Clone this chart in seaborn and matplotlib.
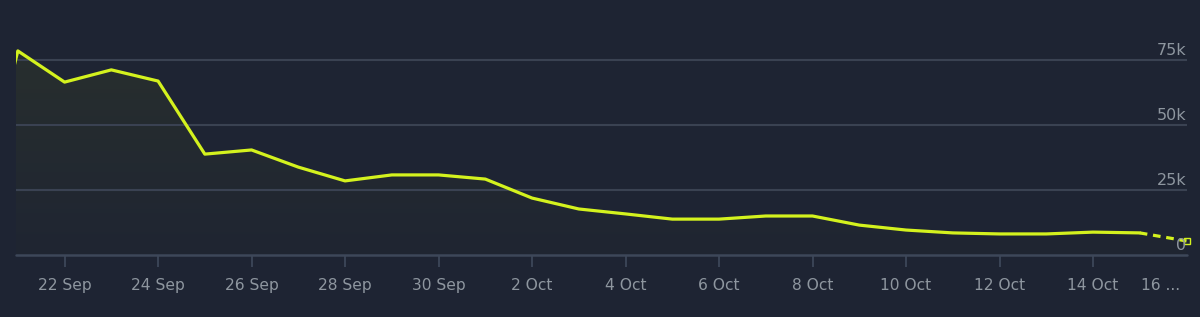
import numpy as np
import pandas as pd
import matplotlib
matplotlib.use("Agg")
import matplotlib.pyplot as plt
import matplotlib.dates as mdates
from matplotlib.colors import LinearSegmentedColormap
import seaborn as sns

# ---- data ----
dates = pd.date_range("2023-09-20", "2023-10-16", freq="D")
players = [5500, 78500, 66500, 71200, 66900, 38800, 40400, 33800, 28500, 30800,
           30800, 29200, 21900, 17700, 15800, 13800, 13800, 15000, 15000, 11500,
           9600, 8500, 8100, 8100, 8800, 8500, 5400]
yticks = [0, 25000, 50000, 75000]
ytick_labels = ["0", "25k", "50k", "75k"]
xtick_dates = pd.date_range("2023-09-22", "2023-10-14", freq="2D")
xtick_labels = [f"{d.day} {d.strftime('%b')}" for d in xtick_dates]
last_label = "16 ..."

BG = "#1e2433"
LINE = "#d4f21e"
GRID = "#3a4252"
TXT = "#8e969f"

sns.set_theme(style="dark")
plt.rcParams["font.family"] = ["DejaVu Sans"]

df = pd.DataFrame({"date": dates, "players": players})
solid = df.iloc[:-1]
dashed = df.iloc[-2:]

W, H = 1200, 317
fig = plt.figure(figsize=(W / 100, H / 100), dpi=100, facecolor=BG)
ax = fig.add_axes([15.5 / W, 62 / H, (1186.5 - 15.5) / W, (255 - 21) / H])
ax.set_facecolor(BG)

ymax = 90000
x0 = mdates.date2num(pd.Timestamp("2023-09-21")) - 0.05
x1 = mdates.date2num(pd.Timestamp("2023-10-16"))
ax.set_xlim(x0, x1)
ax.set_ylim(0, ymax)

# gradient fill under the line
xs = mdates.date2num(df["date"])
fill = ax.fill_between(xs, df["players"], 0, color="none", lw=0)
cmap = LinearSegmentedColormap.from_list("g", ["#1f2532", "#282f2e"])
img = ax.imshow(np.linspace(1, 0, 256).reshape(-1, 1), cmap=cmap, aspect="auto",
                extent=[x0, x1, 0, 80000], origin="upper", zorder=1)
img.set_clip_path(fill.get_paths()[0], transform=ax.transData)
ax.set_xlim(x0, x1)
ax.set_ylim(0, ymax)

# grid lines
for v in yticks[1:]:
    ax.axhline(v, color=GRID, lw=1.5, zorder=2)
ax.axhline(0, color="#3d4759", lw=1.8, zorder=2, clip_on=False)

sns.lineplot(data=solid, x="date", y="players", ax=ax, color=LINE, lw=2.3,
             zorder=5)
sns.lineplot(data=dashed, x="date", y="players", ax=ax, color=LINE, lw=2.3,
             zorder=5, linestyle=(0, (2.4, 1.8)))
ax.plot([dashed["date"].iloc[-1]], [dashed["players"].iloc[-1]], marker="s",
        ms=4, mfc="none", mec=LINE, mew=1.0, zorder=6, clip_on=False)

ax.set_xlim(x0, x1)
ax.set_ylim(0, ymax)

# y labels (inside, right, above the gridlines)
for v, lab in zip(yticks, ytick_labels):
    ax.annotate(lab, xy=(1, v), xycoords=("axes fraction", "data"),
                xytext=(0, 2), textcoords="offset pixels",
                ha="right", va="bottom", color=TXT, fontsize=11.5, zorder=7)
ax.set_yticks([])

# x ticks
ax.set_xticks(mdates.date2num(xtick_dates))
ax.set_xticklabels(xtick_labels, color=TXT, fontsize=11.2)
ax.tick_params(axis="x", length=8.6, width=1.3, color="#3d4759", pad=8.0,
               bottom=True)
ax.annotate(last_label, xy=(x1, 0), xycoords="data", xytext=(-6, -30),
            textcoords="offset pixels", ha="right", va="center", color=TXT,
            fontsize=11.2, annotation_clip=False)

ax.set_xlabel("")
ax.set_ylabel("")
for s in ax.spines.values():
    s.set_visible(False)
ax.grid(False)

fig.savefig("out.png", dpi=100, facecolor=BG)
